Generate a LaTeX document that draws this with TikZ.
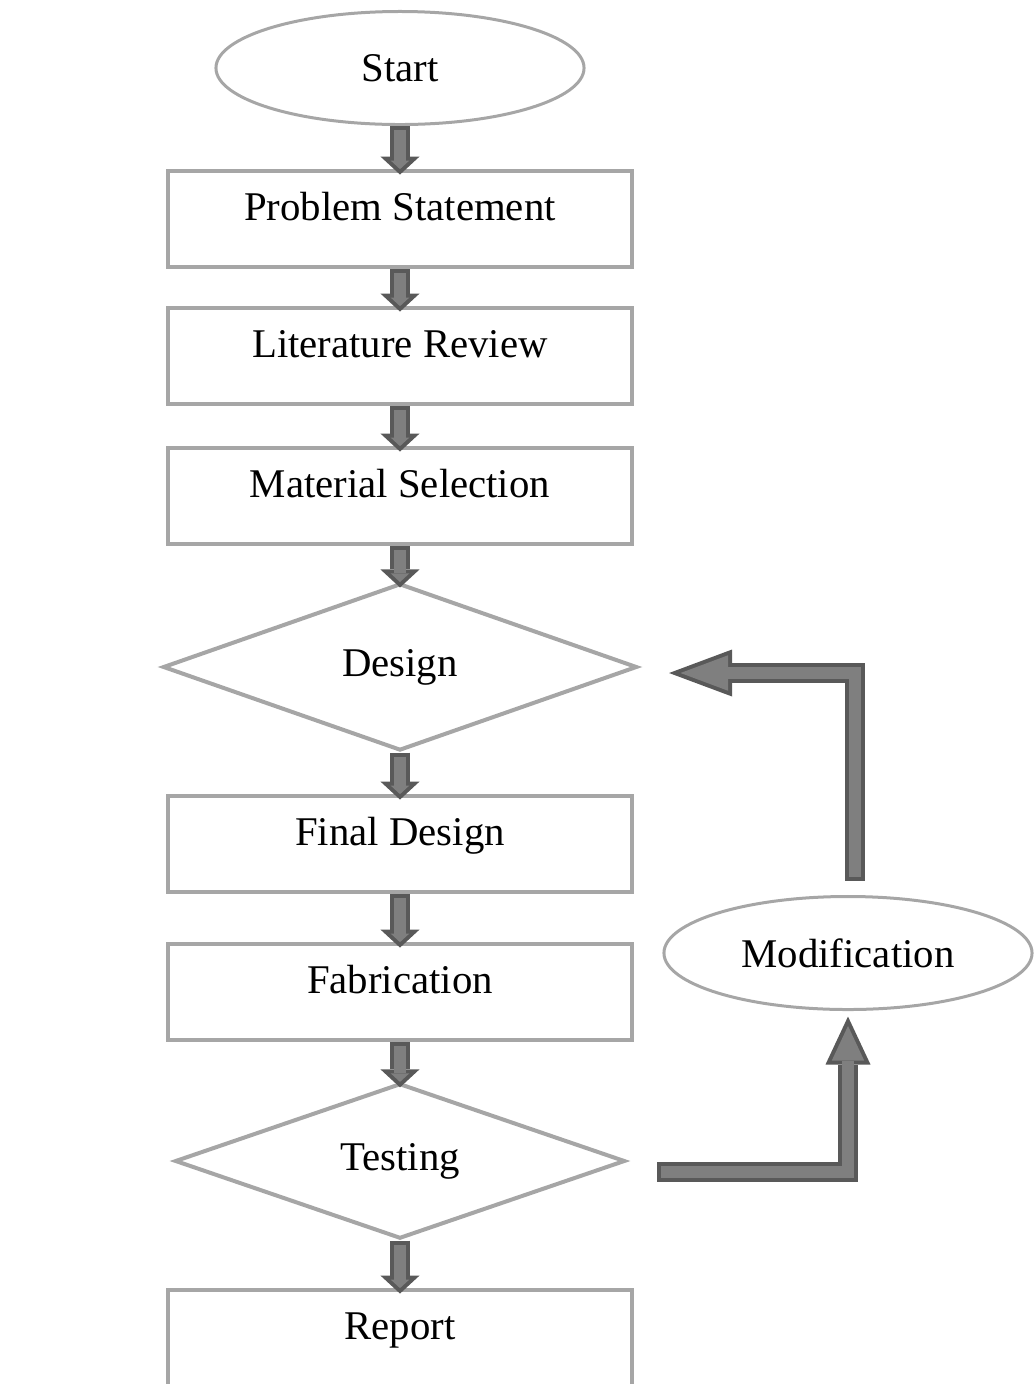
\documentclass[tikz,border=0pt]{standalone}
\usepackage{fontspec}
\setmainfont{Liberation Serif}
\usetikzlibrary{shapes.geometric,arrows.meta}

\definecolor{boxgray}{HTML}{A6A6A6}
\definecolor{arrowdark}{HTML}{595959}
\definecolor{arrowgray}{HTML}{7F7F7F}

\tikzset{
  terminal/.style={ellipse,draw=boxgray,line width=0.075cm,minimum width=9.2cm,minimum height=2.825cm,inner sep=0pt},
  process/.style={rectangle,draw=boxgray,line width=0.1cm,minimum width=11.6cm,minimum height=2.42cm,text height=20pt,text depth=18pt,inner sep=0pt},
  decision/.style={diamond,draw=boxgray,line width=0.1cm,inner sep=0pt},
  loopout/.style={draw=arrowdark,line width=0.5cm},
  loopin/.style={draw=arrowgray,line width=0.3cm,shorten <=0.1cm},
  flowout/.style={loopout,shorten >=-0.15cm,-{Triangle[length=0.45cm,width=0.975cm,line width=0pt]}},
  flowin/.style={loopin,shorten >=-0.014cm,-{Triangle[length=0.214cm,width=0.4635cm,line width=0pt]}}
}

\begin{document}
\begin{tikzpicture}[x=0.025cm,y=-0.025cm,every node/.style={font=\fontsize{29}{34}\selectfont}]

\useasboundingbox (0,0) rectangle (1034,1384);

% main column
\node[terminal] (start) at (400,68) {Start};
\node[process] (ps) at (400,219) {Problem Statement};
\node[process] (lr) at (400,356) {Literature Review};
\node[process] (ms) at (400,496) {Material Selection};
\node[decision,minimum width=11.85cm,minimum height=4.175cm] (design) at (400,667) {Design};
\node[process] (fd) at (400,844) {Final Design};
\node[process] (fab) at (400,992) {Fabrication};
\node[decision,minimum width=11.25cm,minimum height=3.55cm] (test) at (400,1161) {Testing};
\node[process] (report) at (400,1338) {Report};

% side loop
\node[terminal] (modif) at (848,953) {Modification};

% arrows down the column
\foreach \a/\b in {start/ps,ps/lr,lr/ms,ms/design,design/fd,fd/fab,fab/test,test/report}{
  \draw[flowout] (\a.south) -- (\b.north);
  \draw[flowin] (\a.south) -- (\b.north);
}

% testing -> modification
\draw[loopout,shorten >=0.1375cm,-{Triangle[length=1.2cm,width=1.125cm,line width=0pt]}]
  ([shift={(30,11)}]test.east) -| (modif.south);
\draw[loopin,shorten >=0.373cm,-{Triangle[length=0.864cm,width=0.81cm,line width=0pt]}]
  ([shift={(30,11)}]test.east) -| (modif.south);

% modification -> design
\draw[loopout,shorten >=0.75cm,-{Triangle[length=1.575cm,width=1.175cm,line width=0pt]}]
  ([shift={(7,-14)}]modif.north) |- ([shift={(0,6)}]design.east);
\draw[loopin,shorten >=1.036cm,-{Triangle[length=1.189cm,width=0.887cm,line width=0pt]}]
  ([shift={(7,-14)}]modif.north) |- ([shift={(0,6)}]design.east);

\end{tikzpicture}
\end{document}
